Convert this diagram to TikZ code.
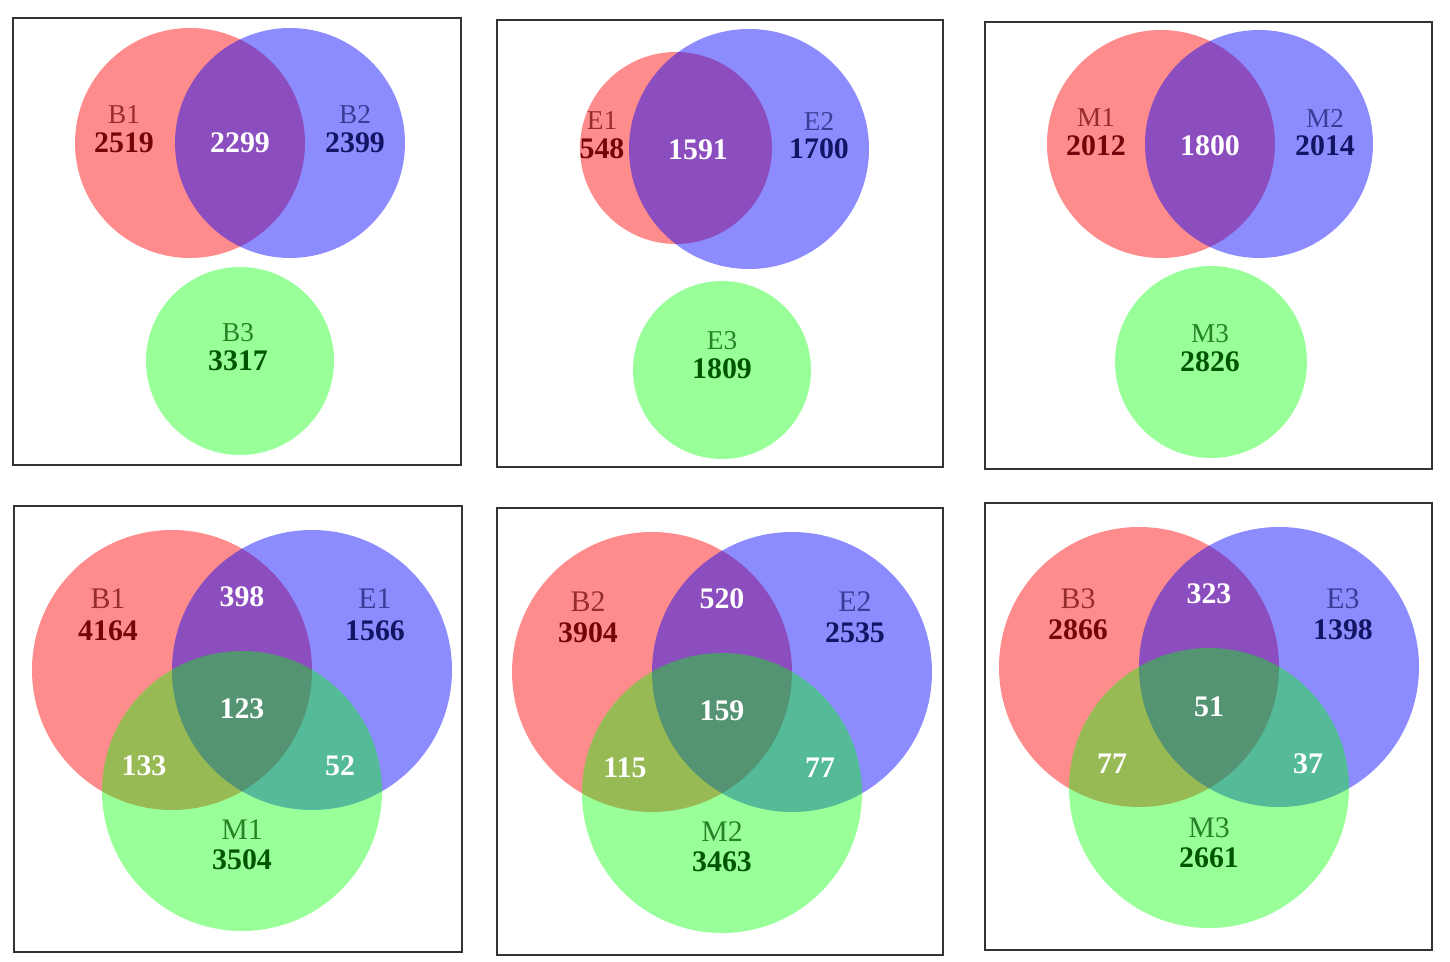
\documentclass[tikz,border=0pt]{standalone}
\usepackage{fontspec}
\setmainfont{Liberation Serif}
\definecolor{redname}{RGB}{150,45,45}
\definecolor{redcount}{RGB}{115,5,10}
\definecolor{bluename}{RGB}{60,60,150}
\definecolor{bluecount}{RGB}{20,20,100}
\definecolor{greenname}{RGB}{40,130,40}
\definecolor{greencount}{RGB}{0,85,0}
\tikzset{
  panel/.style={draw=black!80,line width=1.1pt},
  setred/.style={fill=red,fill opacity=0.45},
  setblue/.style={fill=blue,fill opacity=0.45},
  setgreen/.style={fill=green,fill opacity=0.4},
  lbl/.style={inner sep=0pt,font=\fontsize{17}{17}\selectfont},
  slbl/.style={inner sep=0pt,font=\fontsize{15.5}{16}\selectfont},
  num/.style={inner sep=0pt,font=\fontsize{17}{17}\selectfont\bfseries},
  rname/.style={lbl,text=redname},   rnum/.style={num,text=redcount},
  bname/.style={lbl,text=bluename},  bnum/.style={num,text=bluecount},
  gname/.style={lbl,text=greenname}, gnum/.style={num,text=greencount},
  wnum/.style={num,text=white}
}
\begin{document}
\begin{tikzpicture}[x=0.02cm,y=-0.02cm]
  \useasboundingbox (0,0) rectangle (1450,962);
  % frames
  \draw[panel] (13,18) rectangle (461,465);
  \draw[panel] (497,20) rectangle (943,467);
  \draw[panel] (985,22) rectangle (1432,469);
  \draw[panel] (14,506) rectangle (462,952);
  \draw[panel] (497,508) rectangle (943,955);
  \draw[panel] (985,503) rectangle (1432,950);

  % B1, B2, B3
  \fill[setred] (190,143) circle (115);
  \fill[setblue] (290,143) circle (115);
  \fill[setgreen] (240,361) circle (94);
  \node[rname,slbl] (b1) at (124,115) {B1};
  \node[rnum] (b1n) at (124,143) {2519};
  \node[wnum] (b12) at (240,143) {2299};
  \node[bname,slbl] (b2) at (355,115) {B2};
  \node[bnum] (b2n) at (355,143) {2399};
  \node[gname,slbl] (b3) at (238,333) {B3};
  \node[gnum] (b3n) at (238,361) {3317};

  % E1, E2, E3
  \fill[setred] (676,148) circle (96);
  \fill[setblue] (749,149) circle (120);
  \fill[setgreen] (722,370) circle (89);
  \node[rname,slbl] (e1) at (602,121) {E1};
  \node[rnum] (e1n) at (602,149) {548};
  \node[wnum] (e12) at (698,150) {1591};
  \node[bname,slbl] (e2) at (819,121) {E2};
  \node[bnum] (e2n) at (819,149) {1700};
  \node[gname,slbl] (e3) at (722,341) {E3};
  \node[gnum] (e3n) at (722,369) {1809};

  % M1, M2, M3
  \fill[setred] (1161,144) circle (114);
  \fill[setblue] (1259,144) circle (114);
  \fill[setgreen] (1211,362) circle (96);
  \node[rname,slbl] (m1) at (1096,118) {M1};
  \node[rnum] (m1n) at (1096,146) {2012};
  \node[wnum] (m12) at (1210,146) {1800};
  \node[bname,slbl] (m2) at (1325,118) {M2};
  \node[bnum] (m2n) at (1325,146) {2014};
  \node[gname,slbl] (m3) at (1210,334) {M3};
  \node[gnum] (m3n) at (1210,362) {2826};

  % B1, E1, M1
  \fill[setred] (172,670) circle (140);
  \fill[setblue] (312,670) circle (140);
  \fill[setgreen] (242,791) circle (140);
  \node[rname] (x1b) at (108,599) {B1};
  \node[rnum] (x1bn) at (108,631) {4164};
  \node[bname] (x1e) at (375,599) {E1};
  \node[bnum] (x1en) at (375,631) {1566};
  \node[gname] (x1m) at (242,830) {M1};
  \node[gnum] (x1mn) at (242,860) {3504};
  \node[wnum] (x1be) at (242,597) {398};
  \node[wnum] (x1bem) at (242,709) {123};
  \node[wnum] (x1bm) at (144,766) {133};
  \node[wnum] (x1em) at (340,766) {52};

  % B2, E2, M2
  \fill[setred] (652,672) circle (140);
  \fill[setblue] (792,672) circle (140);
  \fill[setgreen] (722,793) circle (140);
  \node[rname] (x2b) at (588,602) {B2};
  \node[rnum] (x2bn) at (588,633) {3904};
  \node[bname] (x2e) at (855,602) {E2};
  \node[bnum] (x2en) at (855,633) {2535};
  \node[gname] (x2m) at (722,832) {M2};
  \node[gnum] (x2mn) at (722,862) {3463};
  \node[wnum] (x2be) at (722,599) {520};
  \node[wnum] (x2bem) at (722,711) {159};
  \node[wnum] (x2bm) at (625,768) {115};
  \node[wnum] (x2em) at (820,768) {77};

  % B3, E3, M3
  \fill[setred] (1139,667) circle (140);
  \fill[setblue] (1279,667) circle (140);
  \fill[setgreen] (1209,788) circle (140);
  \node[rname] (x3b) at (1078,599) {B3};
  \node[rnum] (x3bn) at (1078,630) {2866};
  \node[bname] (x3e) at (1343,599) {E3};
  \node[bnum] (x3en) at (1343,630) {1398};
  \node[gname] (x3m) at (1209,828) {M3};
  \node[gnum] (x3mn) at (1209,858) {2661};
  \node[wnum] (x3be) at (1209,594) {323};
  \node[wnum] (x3bem) at (1209,707) {51};
  \node[wnum] (x3bm) at (1112,764) {77};
  \node[wnum] (x3em) at (1308,764) {37};
\end{tikzpicture}
\end{document}
